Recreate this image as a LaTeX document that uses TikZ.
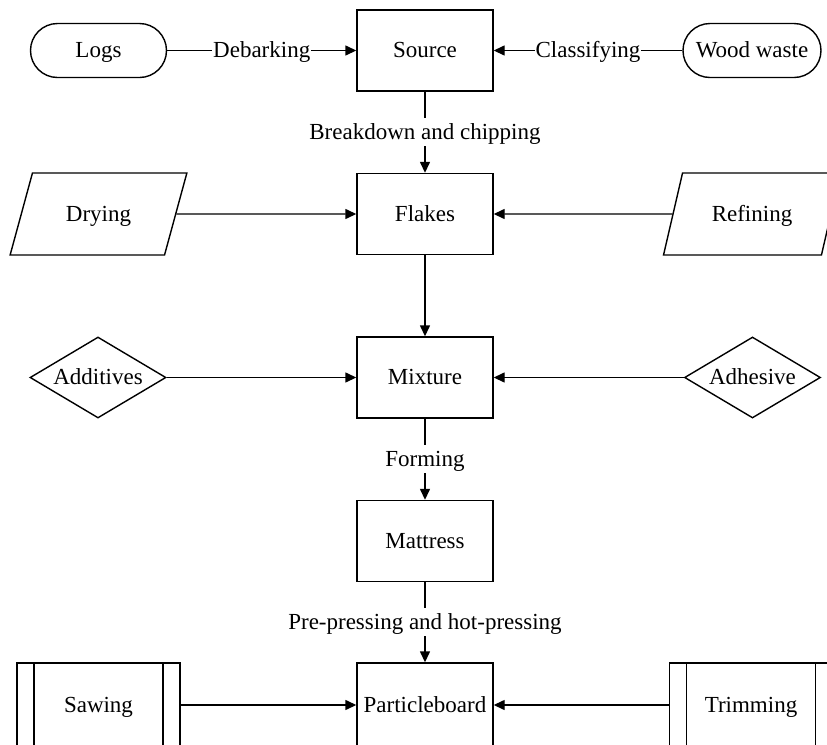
\documentclass[tikz,border=0pt]{standalone}
\usepackage{fontspec}
\setmainfont{Liberation Serif}
\usetikzlibrary{arrows.meta, shapes.geometric}

\begin{document}
\begin{tikzpicture}[x=0.5pt, y=-0.5pt,
    font=\fontsize{11.5}{13}\selectfont, line width=0.7pt,
    every node/.style={text height=9pt, text depth=2pt},
    box/.style={draw, minimum width=68pt, minimum height=40.5pt, inner sep=0pt},
    terminal/.style={draw, rounded corners=13.5pt, minimum width=68pt, minimum height=27pt, inner sep=0pt},
    slanted/.style={draw, trapezium, trapezium left angle=63.4, trapezium right angle=116.6,
        trapezium stretches=true, minimum width=88.5pt, minimum height=41pt, inner sep=0pt},
    decision/.style={draw, diamond, aspect=1.68, minimum width=68pt, minimum height=40.5pt, inner sep=0pt},
    subproc/.style={box, minimum width=81.5pt, minimum height=42pt,
        path picture={
            \draw ([xshift=8.5pt]path picture bounding box.north west) -- ([xshift=8.5pt]path picture bounding box.south west);
            \draw ([xshift=-8.5pt]path picture bounding box.north east) -- ([xshift=-8.5pt]path picture bounding box.south east);
        }},
    flow/.style={-{Triangle[length=5.5pt, width=5pt]}},
    lbl/.style={fill=white, inner xsep=0.5pt, inner ysep=1.5pt}]
    \useasboundingbox (0,0) rectangle (827,745);
    \clip (0,0) rectangle (827,745);

    % Main chain (centre column)
    \node[box] (source) at (425, 50.5) {Source};
    \node[box] (flakes) at (425, 214) {Flakes};
    \node[box] (mixture) at (425, 377.5) {Mixture};
    \node[box] (mattress) at (425, 541) {Mattress};
    \node[box, minimum height=42pt] (board) at (425, 705) {Particleboard};

    % Inputs on the left and right
    \node[terminal] (logs) at (98.5, 50.5) {Logs};
    \node[terminal, minimum width=69pt] (waste) at (752, 50.5) {Wood waste};
    \node[slanted] (drying) at (98.5, 214) {Drying};
    \node[slanted] (refining) at (752, 214) {Refining};
    \node[decision] (additives) at (98, 377.5) {Additives};
    \node[decision] (adhesive) at (752.5, 377.5) {Adhesive};
    \node[subproc] (sawing) at (98.5, 705) {Sawing};
    \node[subproc] (trimming) at (751, 705) {Trimming};

    % Connectors
    \draw[flow] (logs) -- node[lbl] {Debarking} (source);
    \draw[flow] (waste) -- node[lbl] {Classifying} (source);
    \draw[flow] (source) -- node[lbl] {Breakdown and chipping} (flakes);
    \draw[flow] (drying) -- (flakes);
    \draw[flow] (refining) -- (flakes);
    \draw[flow] (flakes) -- (mixture);
    \draw[flow] (additives) -- (mixture);
    \draw[flow] (adhesive) -- (mixture);
    \draw[flow] (mixture) -- node[lbl] {Forming} (mattress);
    \draw[flow] (mattress) -- node[lbl] {Pre-pressing and hot-pressing} (board);
    \draw[flow] (sawing) -- (board);
    \draw[flow] (trimming) -- (board);
\end{tikzpicture}
\end{document}
